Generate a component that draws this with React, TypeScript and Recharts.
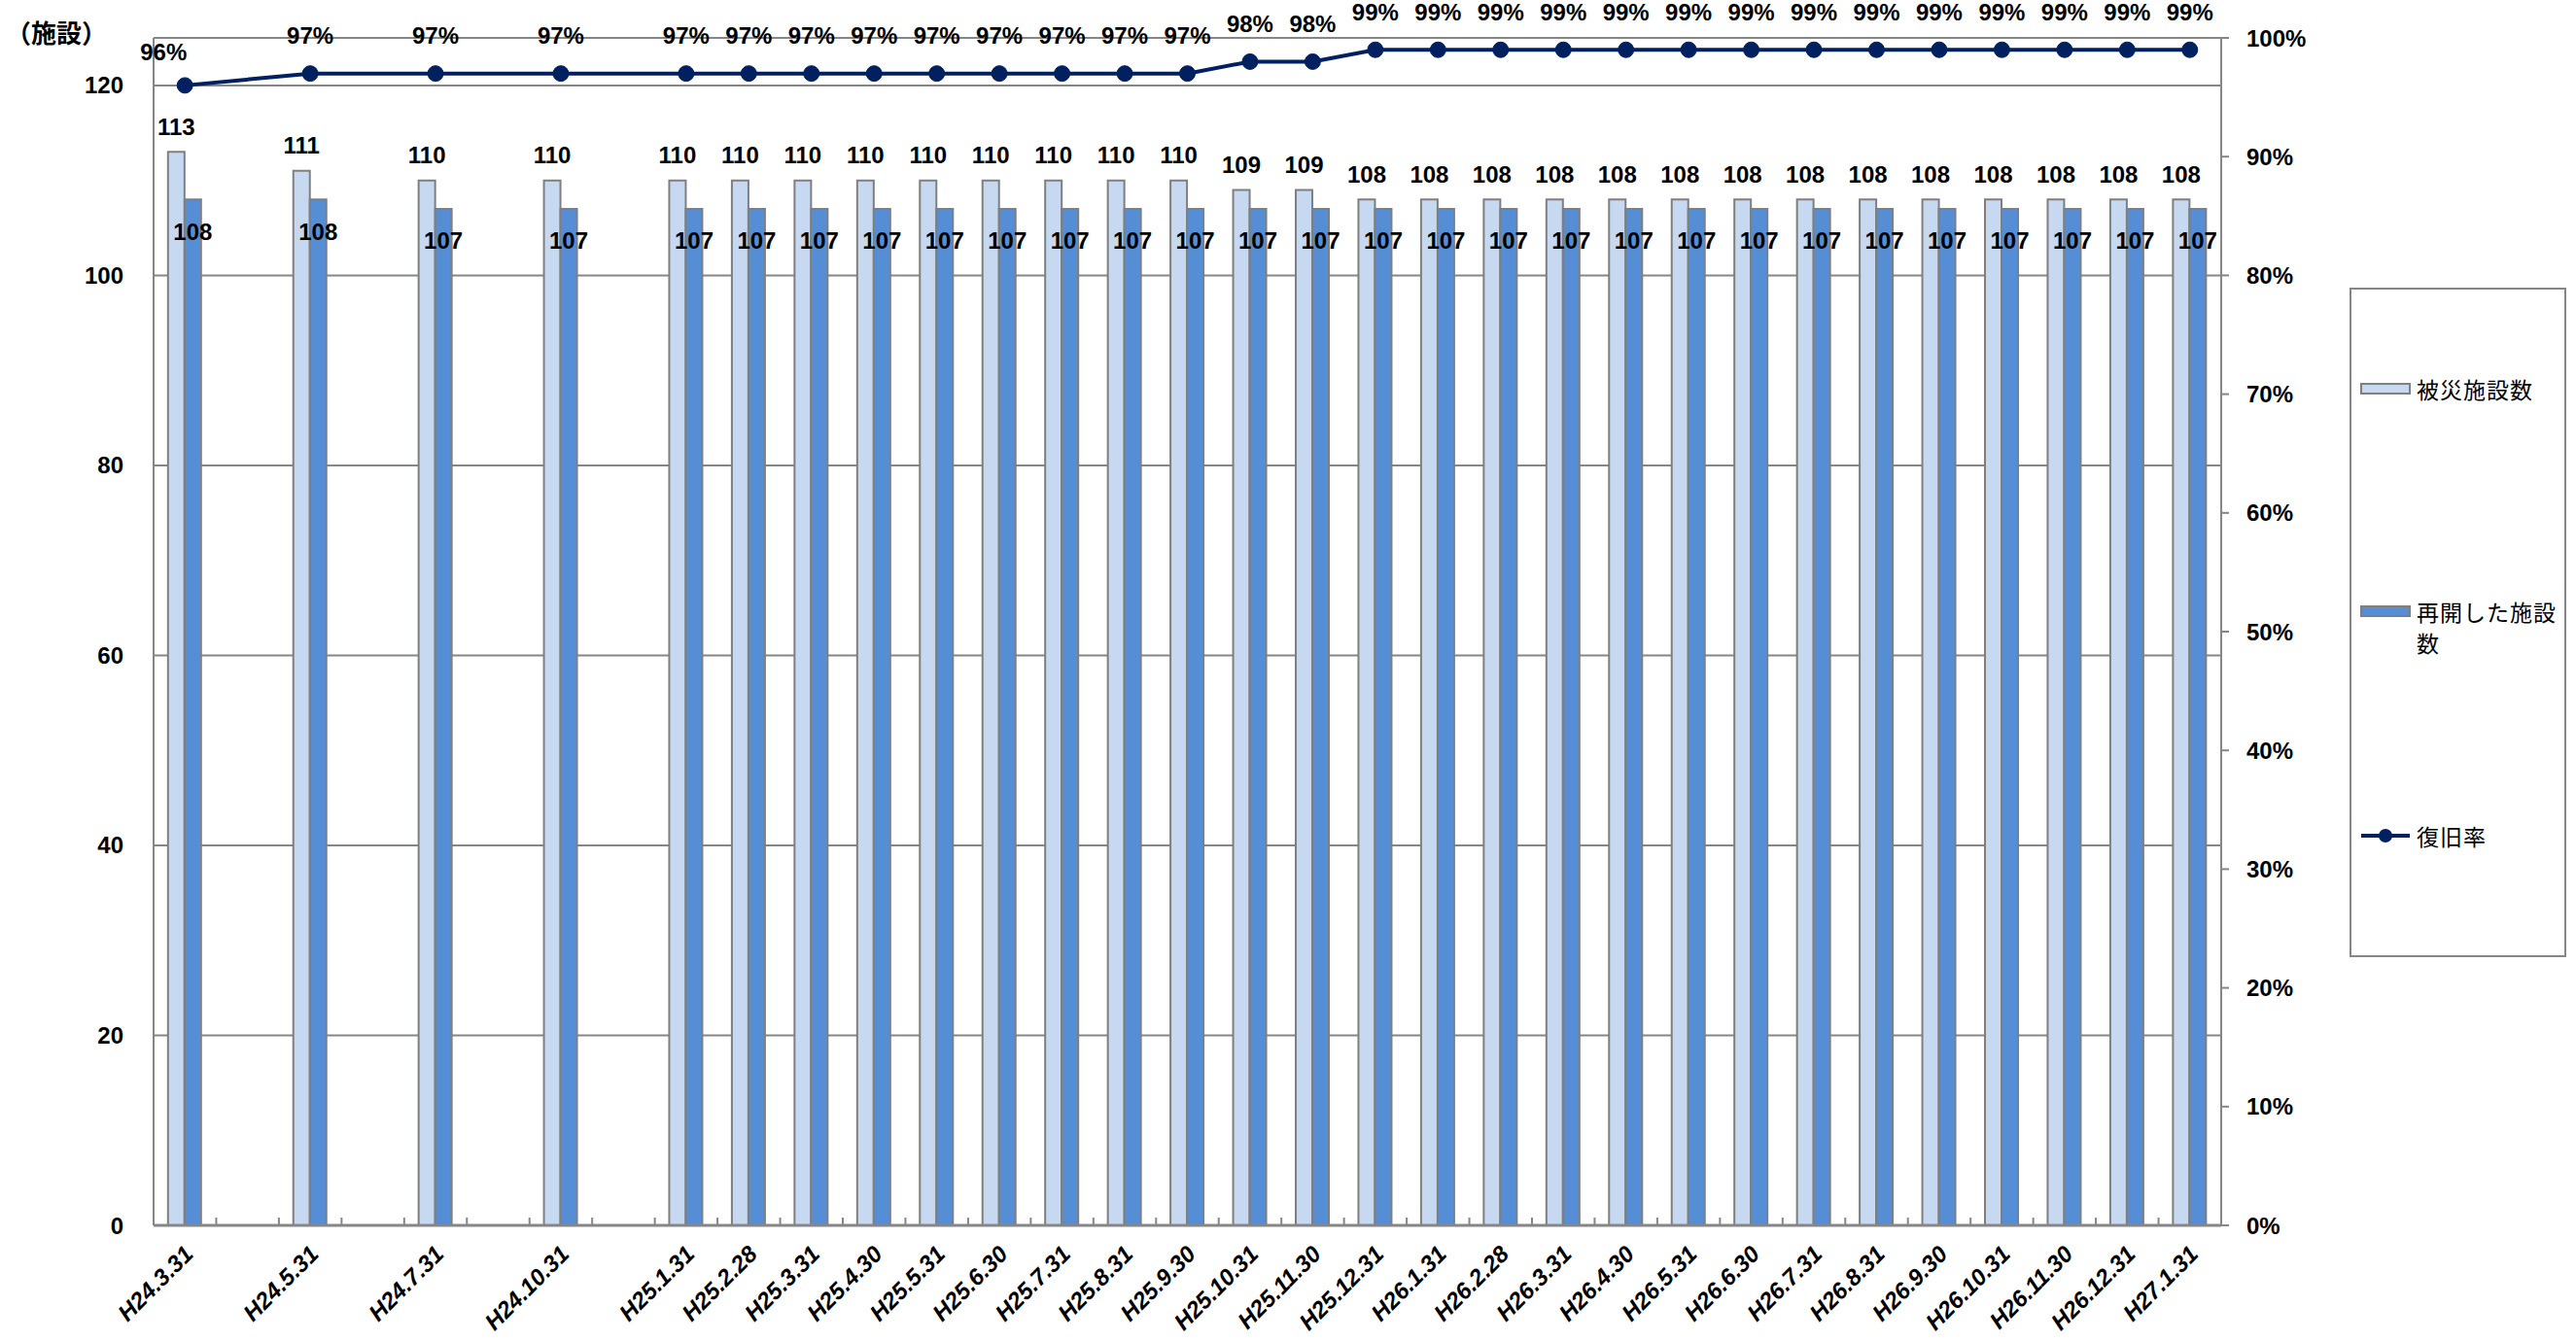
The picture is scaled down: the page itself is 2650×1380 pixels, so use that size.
import React from 'react';
import {
  ComposedChart,
  Bar,
  Line,
  XAxis,
  YAxis,
  CartesianGrid,
  LabelList,
  Legend,
  ReferenceLine,
  Customized,
} from 'recharts';

// ---------- data ----------
const categories = [
  'H24.3.31', '', 'H24.5.31', '', 'H24.7.31', '', 'H24.10.31', '',
  'H25.1.31', 'H25.2.28', 'H25.3.31', 'H25.4.30', 'H25.5.31', 'H25.6.30',
  'H25.7.31', 'H25.8.31', 'H25.9.30', 'H25.10.31', 'H25.11.30', 'H25.12.31',
  'H26.1.31', 'H26.2.28', 'H26.3.31', 'H26.4.30', 'H26.5.31', 'H26.6.30',
  'H26.7.31', 'H26.8.31', 'H26.9.30', 'H26.10.31', 'H26.11.30', 'H26.12.31',
  'H27.1.31',
];
const damagedCounts = [
  113, null, 111, null, 110, null, 110, null,
  110, 110, 110, 110, 110, 110,
  110, 110, 110, 109, 109, 108,
  108, 108, 108, 108, 108, 108,
  108, 108, 108, 108, 108, 108,
  108,
];
const reopenedCounts = [
  108, null, 108, null, 107, null, 107, null,
  107, 107, 107, 107, 107, 107,
  107, 107, 107, 107, 107, 107,
  107, 107, 107, 107, 107, 107,
  107, 107, 107, 107, 107, 107,
  107,
];
const recoveryRates = [
  0.96, null, 0.97, null, 0.97, null, 0.97, null,
  0.97, 0.97, 0.97, 0.97, 0.97, 0.97,
  0.97, 0.97, 0.97, 0.98, 0.98, 0.99,
  0.99, 0.99, 0.99, 0.99, 0.99, 0.99,
  0.99, 0.99, 0.99, 0.99, 0.99, 0.99,
  0.99,
];
const leftTicks = [0, 20, 40, 60, 80, 100, 120];
const rightTicks = [0, 0.1, 0.2, 0.3, 0.4, 0.5, 0.6, 0.7, 0.8, 0.9, 1];
const seriesNames = ['被災施設数', '再開した施設数', '復旧率'];
const unitLabel = '（施設）';

const data = categories.map((c, i) => ({
  cat: c,
  damaged: damagedCounts[i],
  reopened: reopenedCounts[i],
  rate: recoveryRates[i],
}));

// ---------- style ----------
const W = 2650;
const H = 1380;
const PLOT_LEFT = 158;
const PLOT_RIGHT = 2285;
const PLOT_TOP = 39;
const PLOT_BOTTOM = 1261;
const LEFT_AXIS_W = 120;
const RIGHT_AXIS_W = 120;
const X_AXIS_H = 110;
const SLOT = (PLOT_RIGHT - PLOT_LEFT) / categories.length;

const LIGHT = '#C6D9F1';
const DARK = '#558ED5';
const NAVY = '#002060';
const GRID = '#868686';
const BAR_STROKE = '#7F7F7F';
const NUM_FONT = "'Liberation Sans', Arial, sans-serif";
const JP_FONT = "'Noto Sans CJK JP', 'Noto Sans', sans-serif";
const FS = 24;

const XTick = (props: any) => {
  const { x, y, payload } = props;
  const label = payload && payload.value;
  const bx = x - SLOT / 2;
  const ax = x + 10;
  const ay = y + 31;
  return (
    <g>
      <line x1={bx} x2={bx} y1={y} y2={y - 8} stroke={GRID} strokeWidth={2} />
      {label ? (
        <text
          x={ax}
          y={ay}
          transform={`rotate(-45, ${ax}, ${ay})`}
          textAnchor="end"
          fontFamily={NUM_FONT}
          fontWeight="bold"
          fontStyle="italic"
          fontSize={24}
          fill="#000"
        >
          {label}
        </text>
      ) : null}
    </g>
  );
};

const DamagedLabel = (props: any) => {
  const { x, y, width, value } = props;
  if (value == null) return null;
  return (
    <text
      x={x + width / 2}
      y={y - 26}
      textAnchor="middle"
      dominantBaseline="central"
      fontFamily={NUM_FONT}
      fontWeight="bold"
      fontSize={FS}
      fill="#000"
    >
      {value}
    </text>
  );
};

const ReopenedLabel = (props: any) => {
  const { x, y, width, value } = props;
  if (value == null) return null;
  return (
    <text
      x={x + width / 2}
      y={y + 33}
      textAnchor="middle"
      dominantBaseline="central"
      fontFamily={NUM_FONT}
      fontWeight="bold"
      fontSize={FS}
      fill="#000"
    >
      {value}
    </text>
  );
};

const RateLabel = (props: any) => {
  const { x, y, value, index } = props;
  if (value == null) return null;
  const dx = index === 0 ? -22 : 0;
  const dy = index === 0 ? -34 : -39;
  return (
    <text
      x={x + dx}
      y={y + dy}
      textAnchor="middle"
      dominantBaseline="central"
      fontFamily={NUM_FONT}
      fontWeight="bold"
      fontSize={FS}
      fill="#000"
    >
      {`${Math.round(value * 100)}%`}
    </text>
  );
};

const LegendBox = () => {
  const bw = 223;
  const bh = 689;
  const tx = 69;
  const textProps = {
    fontFamily: JP_FONT,
    fontSize: 23,
    letterSpacing: 1,
    fill: '#000',
    dominantBaseline: 'central' as const,
  };
  return (
    <svg width={bw} height={bh} style={{ display: 'block' }}>
      <rect x={1} y={1} width={bw - 2} height={bh - 2} fill="#fff" stroke={GRID} strokeWidth={2} />
      <rect x={12} y={99} width={50} height={10} fill={LIGHT} stroke={BAR_STROKE} strokeWidth={2} />
      <text x={tx} y={104} {...textProps}>{seriesNames[0]}</text>
      <rect x={12} y={328} width={50} height={10} fill={DARK} stroke={BAR_STROKE} strokeWidth={2} />
      <text x={tx} y={333} {...textProps}>
        <tspan x={tx} y={333}>{seriesNames[1].slice(0, 6)}</tspan>
        <tspan x={tx} y={365}>{seriesNames[1].slice(6)}</tspan>
      </text>
      <line x1={12} x2={62} y1={564} y2={564} stroke={NAVY} strokeWidth={4} />
      <circle cx={37} cy={564} r={7} fill={NAVY} />
      <text x={tx} y={564} {...textProps}>{seriesNames[2]}</text>
    </svg>
  );
};

const UnitLabel = () => (
  <text
    x={6}
    y={32}
    dominantBaseline="central"
    fontFamily={JP_FONT}
    fontWeight="bold"
    fontSize={26}
    fill="#000"
  >
    {unitLabel}
  </text>
);

export default function App() {
  return (
    <div style={{ position: 'absolute', left: 0, top: 0, width: W, height: H, background: '#fff' }}>
      <ComposedChart
        width={W}
        height={H}
        data={data}
        margin={{
          top: PLOT_TOP,
          left: PLOT_LEFT - LEFT_AXIS_W,
          right: W - PLOT_RIGHT - RIGHT_AXIS_W,
          bottom: H - PLOT_BOTTOM - X_AXIS_H,
        }}
        barCategoryGap="23%"
        barGap={0}
      >
        <CartesianGrid yAxisId="left" vertical={false} stroke={GRID} strokeWidth={2} />
        <XAxis
          dataKey="cat"
          type="category"
          allowDuplicatedCategory={true}
          interval={0}
          height={X_AXIS_H}
          axisLine={{ stroke: GRID, strokeWidth: 3 }}
          tickLine={false}
          tickSize={0}
          tickMargin={0}
          tick={<XTick />}
        />
        <YAxis
          yAxisId="left"
          orientation="left"
          width={LEFT_AXIS_W}
          domain={[0, 125]}
          ticks={leftTicks}
          allowDataOverflow={true}
          axisLine={{ stroke: GRID, strokeWidth: 2 }}
          tickLine={false}
          tickSize={0}
          tickMargin={31}
          tick={{ fontFamily: NUM_FONT, fontWeight: 'bold', fontSize: FS, fill: '#000' }}
        />
        <YAxis
          yAxisId="right"
          orientation="right"
          width={RIGHT_AXIS_W}
          domain={[0, 1]}
          ticks={rightTicks}
          allowDataOverflow={true}
          axisLine={{ stroke: GRID, strokeWidth: 2 }}
          tickLine={{ stroke: GRID, strokeWidth: 2 }}
          tickSize={8}
          tickMargin={18}
          tickFormatter={(v: number) => `${Math.round(v * 100)}%`}
          tick={{ fontFamily: NUM_FONT, fontWeight: 'bold', fontSize: FS, fill: '#000', textAnchor: 'start' }}
        />
        <ReferenceLine yAxisId="right" y={1} stroke={GRID} strokeWidth={2} />
        <Bar
          yAxisId="left"
          dataKey="damaged"
          name={seriesNames[0]}
          fill={LIGHT}
          stroke={BAR_STROKE}
          strokeWidth={2}
          isAnimationActive={false}
        >
          <LabelList dataKey="damaged" content={<DamagedLabel />} />
        </Bar>
        <Bar
          yAxisId="left"
          dataKey="reopened"
          name={seriesNames[1]}
          fill={DARK}
          stroke={BAR_STROKE}
          strokeWidth={2}
          isAnimationActive={false}
        >
          <LabelList dataKey="reopened" content={<ReopenedLabel />} />
        </Bar>
        <Line
          yAxisId="right"
          dataKey="rate"
          name={seriesNames[2]}
          stroke={NAVY}
          strokeWidth={4}
          connectNulls={true}
          dot={{ r: 8, fill: NAVY, stroke: NAVY, strokeWidth: 1 }}
          activeDot={false}
          isAnimationActive={false}
        >
          <LabelList dataKey="rate" content={<RateLabel />} />
        </Line>
        <Legend
          layout="vertical"
          align="center"
          verticalAlign="middle"
          wrapperStyle={{ left: 2417, top: 296, width: 223, height: 689 }}
          content={() => <LegendBox />}
        />
        <Customized component={UnitLabel} />
      </ComposedChart>
    </div>
  );
}
